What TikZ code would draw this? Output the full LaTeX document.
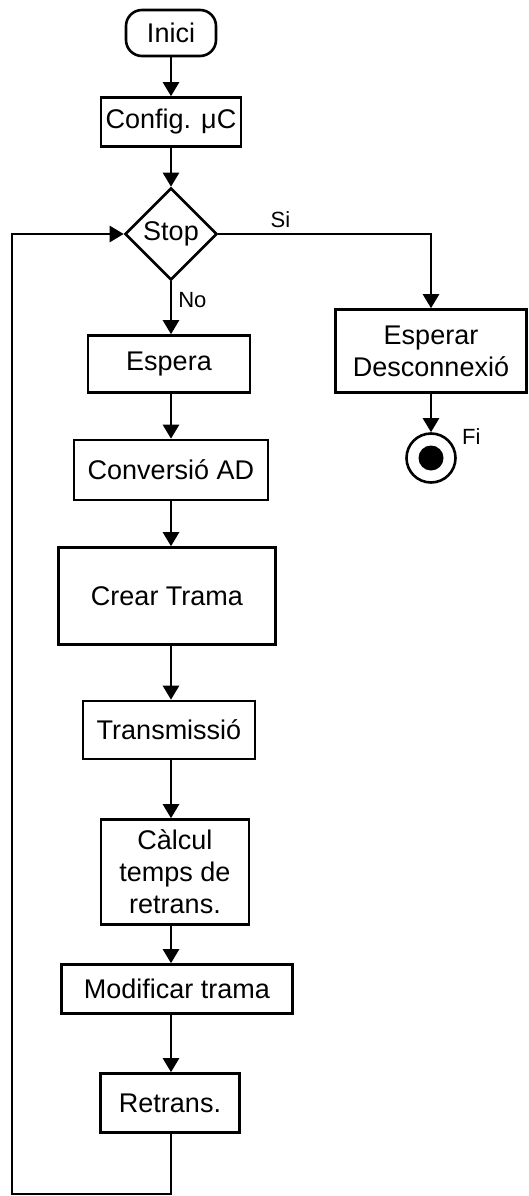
\documentclass[tikz,border=0pt]{standalone}
\usepackage{fontspec}
\setmainfont{Liberation Sans}
\usetikzlibrary{shapes.geometric}
\usetikzlibrary{arrows.meta}

\begin{document}
\begin{tikzpicture}[x=1pt,y=-1pt,
	caixa/.style={draw,line width=2.6pt,inner sep=0pt,align=center,font=\fontsize{27}{32}\selectfont},
	fletxa/.style={line width=2.6pt,-{Triangle[width=16pt,length=14pt]}},
	etiq/.style={anchor=west,inner sep=0pt,font=\fontsize{22}{26}\selectfont}]
	\useasboundingbox (0,0) rectangle (528,1196);
	% columna principal
	\node[caixa,rounded corners=16pt,minimum width=90pt,minimum height=46pt] (inici) at (171,33) {Inici};
	\node[caixa,minimum width=140pt,minimum height=49pt] (config) at (171,122) {Config. μC};
	\node[caixa,diamond,aspect=1,minimum width=92pt,minimum height=92pt] (stop) at (171,234) {Stop};
	\node[caixa,minimum width=162pt,minimum height=57pt] (espera) at (169,364) {Espera};
	\node[caixa,minimum width=194pt,minimum height=60pt] (conv) at (171,470) {Conversió AD};
	\node[caixa,minimum width=217pt,minimum height=97pt] (crear) at (167,596) {Crear Trama};
	\node[caixa,minimum width=172pt,minimum height=58pt] (trans) at (169,730) {Transmissió};
	\node[caixa,minimum width=148pt,minimum height=105pt] (calc) at (175,872) {Càlcul\\temps de\\retrans.};
	\node[caixa,minimum width=231pt,minimum height=49pt] (modif) at (177,989) {Modificar trama};
	\node[caixa,minimum width=139pt,minimum height=59pt] (retrans) at (170,1103) {Retrans.};
	% branca de sortida
	\node[caixa,minimum width=191pt,minimum height=83pt] (esperar) at (431,351) {Esperar\\Desconnexió};
	\node[draw,circle,line width=2.6pt,inner sep=0pt,minimum size=49pt] (fi) at (431,458) {};
	\node[circle,fill,inner sep=0pt,minimum size=25pt] (fipunt) at (fi) {};
	\coordinate (canto) at (12,1194);

	\draw[fletxa] (inici) -- (config);
	\draw[fletxa] (config.south -| stop) -- (stop.north);
	\draw[fletxa] (stop.south) -- (stop.south |- espera.north) node[etiq,pos=0.35,xshift=6pt] {No};
	\draw[fletxa] (espera.south -| stop) -- (conv.north -| stop);
	\draw[fletxa] (conv.south -| stop) -- (crear.north -| stop);
	\draw[fletxa] (crear.south -| stop) -- (trans.north -| stop);
	\draw[fletxa] (trans.south -| stop) -- (calc.north -| stop);
	\draw[fletxa] (calc.south -| stop) -- (modif.north -| stop);
	\draw[fletxa] (modif.south -| stop) -- (retrans.north -| stop);
	\draw[fletxa] (retrans.south -| stop) |- (canto) |- (stop.west);
	\draw[fletxa] (stop.east) -| (esperar.north) node[etiq,pos=0.12,yshift=14pt] {Si};
	\draw[fletxa] (esperar) -- (fi);
	\node[etiq] at (462,437) {Fi};
\end{tikzpicture}
\end{document}
